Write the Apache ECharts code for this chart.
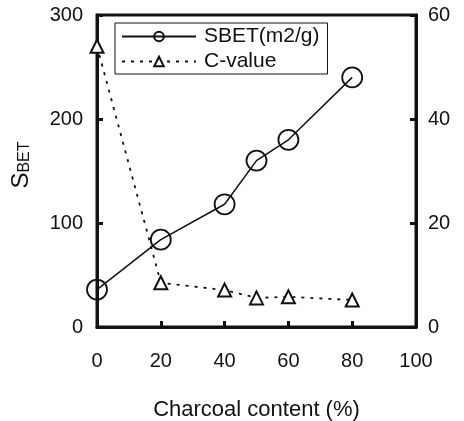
<!DOCTYPE html>
<html>
<head>
<meta charset="utf-8">
<script src="https://cdn.jsdelivr.net/npm/echarts@6/dist/echarts.min.js"></script>
<style>
html, body { margin: 0; padding: 0; background: #fff; }
#chart { width: 464px; height: 421px; }
</style>
</head>
<body>
<div id="chart"></div>
<script>
// charcoal content (%)
var content = [0, 20, 40, 50, 60, 80]
var sbet = [36, 84, 118, 160, 180, 240]
var cValue = [54, 8.5, 7.1, 5.6, 5.8, 5.2]
var xTicks = [0, 20, 40, 60, 80, 100]

var chart = echarts.init(document.getElementById('chart'))
var font = 'Liberation Sans, Arial, sans-serif'
var ink = '#111'

chart.setOption({
  backgroundColor: '#fff',
  animation: false,
  textStyle: { fontFamily: font },
  grid: {
    left: 97,
    right: 48,
    top: 15,
    bottom: 94,
    outerBoundsMode: 'none',
    show: true,
    borderColor: ink,
    borderWidth: 3
  },
  legend: {
    left: 115,
    top: 23,
    orient: 'vertical',
    itemWidth: 74,
    itemHeight: 12,
    itemGap: 4,
    padding: [3, 8, 2, 6],
    borderColor: ink,
    borderWidth: 1,
    textStyle: { fontSize: 21, color: ink, fontFamily: font, padding: [0, 0, 0, 3] },
    data: ['SBET(m2/g)', 'C-value']
  },
  xAxis: {
    type: 'value',
    min: 0,
    max: 100,
    interval: 20,
    name: 'Charcoal content (%)',
    nameLocation: 'middle',
    nameGap: 72,
    nameTextStyle: { fontSize: 22, color: ink },
    axisLine: { lineStyle: { color: ink, width: 3 } },
    axisTick: { inside: true, length: 6, lineStyle: { width: 3, color: ink } },
    axisLabel: {
      margin: 24,
      fontSize: 20,
      color: ink,
      formatter: function (v) { return xTicks.indexOf(v) >= 0 ? String(v) : '' }
    },
    splitLine: { show: false }
  },
  yAxis: [{
    type: 'value',
    min: 0,
    max: 300,
    interval: 100,
    name: '{s|S}{sub|BET}',
    nameLocation: 'middle',
    nameGap: 64,
    nameTextStyle: {
      color: ink,
      padding: [0, 0, 0, 12],
      rich: {
        s: { fontSize: 24, color: ink, fontFamily: font },
        sub: { fontSize: 16, color: ink, fontFamily: font, padding: [8, 0, 0, 0] }
      }
    },
    axisLine: { show: true, lineStyle: { color: ink, width: 3 } },
    axisTick: { show: true, inside: true, length: 6, lineStyle: { width: 3, color: ink } },
    axisLabel: { margin: 14, fontSize: 20, color: ink },
    splitLine: { show: false }
  }, {
    type: 'value',
    min: 0,
    max: 60,
    interval: 20,
    position: 'right',
    axisLine: { show: true, lineStyle: { color: ink, width: 3 } },
    axisTick: { show: true, inside: true, length: 6, lineStyle: { width: 3, color: ink } },
    axisLabel: { margin: 12, fontSize: 20, color: ink },
    splitLine: { show: false }
  }],
  series: [{
    name: 'SBET(m2/g)',
    type: 'line',
    yAxisIndex: 0,
    data: content.map(function (x, i) { return [x, sbet[i]] }),
    symbol: 'circle',
    symbolSize: 20,
    showAllSymbol: true,
    lineStyle: { color: ink, width: 1.5 },
    itemStyle: { color: 'rgba(255,255,255,0)', borderColor: ink, borderWidth: 1.8 },
    z: 3
  }, {
    name: 'C-value',
    type: 'line',
    yAxisIndex: 1,
    data: content.map(function (x, i) { return [x, cValue[i]] }),
    symbol: 'triangle',
    symbolSize: 13,
    showAllSymbol: true,
    lineStyle: { color: ink, width: 1.8, type: [3, 6] },
    itemStyle: { color: '#fff', borderColor: ink, borderWidth: 2 },
    z: 2
  }]
})
</script>
</body>
</html>
